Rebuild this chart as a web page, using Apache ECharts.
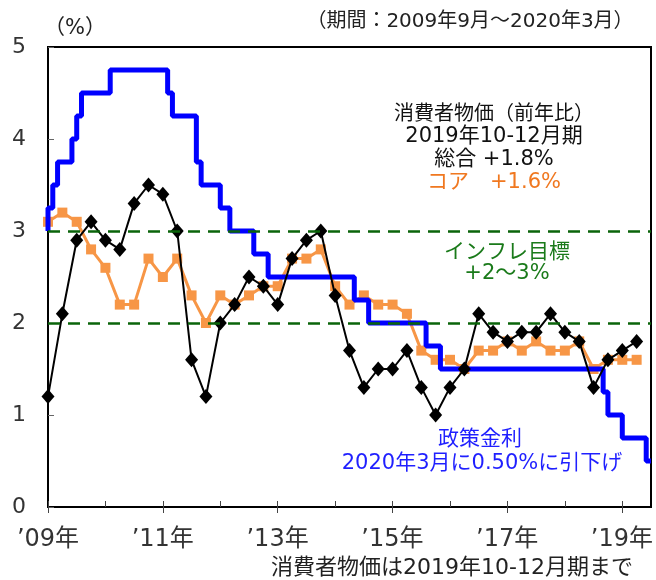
<!DOCTYPE html>
<html><head><meta charset="utf-8">
<script src="https://cdn.jsdelivr.net/npm/echarts@6/dist/echarts.min.js"></script>
<style>html,body{margin:0;padding:0;background:#fff}#c{width:656px;height:580px}</style>
</head><body><div id="c"></div>
<script>
// Monthly policy rate, Sep 2009 .. Mar 2020 (index = months since Sep 2009)
const policyRate = [
  3.00,3.25,3.50,3.75,3.75,3.75,4.00,4.25,4.50,4.50,4.50,4.50,
  4.50,4.50,4.75,4.75,4.75,4.75,4.75,4.75,4.75,4.75,4.75,4.75,
  4.75,4.75,4.50,4.25,4.25,4.25,4.25,4.25,3.75,3.50,3.50,3.50,
  3.50,3.25,3.25,3.00,3.00,3.00,3.00,3.00,2.75,2.75,2.75,2.50,
  2.50,2.50,2.50,2.50,2.50,2.50,2.50,2.50,2.50,2.50,2.50,2.50,
  2.50,2.50,2.50,2.50,2.50,2.25,2.25,2.25,2.00,2.00,2.00,2.00,
  2.00,2.00,2.00,2.00,2.00,2.00,2.00,2.00,1.75,1.75,1.75,1.50,
  1.50,1.50,1.50,1.50,1.50,1.50,1.50,1.50,1.50,1.50,1.50,1.50,
  1.50,1.50,1.50,1.50,1.50,1.50,1.50,1.50,1.50,1.50,1.50,1.50,
  1.50,1.50,1.50,1.50,1.50,1.50,1.50,1.50,1.50,1.25,1.00,1.00,
  1.00,0.75,0.75,0.75,0.75,0.75,0.50
];
// Quarterly CPI (y/y %), 2009 Q3 .. 2019 Q4
const cpiHeadline = [1.2,2.1,2.9,3.1,2.9,2.8,3.3,3.5,3.4,3.0,1.6,1.2,2.0,2.2,2.5,2.4,2.2,2.7,2.9,3.0,2.3,1.7,1.3,1.5,1.5,1.7,1.3,1.0,1.3,1.5,2.1,1.9,1.8,1.9,1.9,2.1,1.9,1.8,1.3,1.6,1.7,1.8];
const cpiCore = [3.1,3.2,3.1,2.8,2.6,2.2,2.2,2.7,2.5,2.7,2.3,2.0,2.3,2.2,2.3,2.4,2.4,2.7,2.7,2.8,2.4,2.2,2.3,2.2,2.2,2.1,1.7,1.6,1.6,1.5,1.7,1.7,1.8,1.7,1.8,1.7,1.7,1.8,1.5,1.6,1.6,1.6];
const targetBand = [2, 3];
const yearTickMonths = [0,12,24,36,48,60,72,84,96,108,120];
const labelTickMonths = [0,24,48,72,96,120];
const xTickLabels = ['’09年','’11年','’13年','’15年','’17年','’19年'];
const monthsPerQuarter = 3;
const xMax = policyRate.length - 1;

const FONT = '"DejaVu Sans","Noto Sans CJK JP",sans-serif';
const chart = echarts.init(document.getElementById('c'), null, {renderer: 'canvas'});
const gridPos = {left: 48, top: 47, right: 5, bottom: 73};

function txt(text, x, y, size, color, align) {
  return {type: 'text', x: x, y: y, z: 100,
    style: {text: text, fill: color, font: size + 'px ' + FONT,
      align: align || 'center', verticalAlign: 'middle',
      textAlign: align || 'center', textVerticalAlign: 'middle'}};
}

chart.setOption({
  animation: false,
  grid: [
    Object.assign({show: true, borderColor: '#000', borderWidth: 2, backgroundColor: 'transparent'}, gridPos),
    Object.assign({show: false}, gridPos)
  ],
  xAxis: [
    {type: 'value', gridIndex: 0, min: 0, max: xMax,
     axisLine: {show: true, lineStyle: {color: '#000', width: 2}},
     axisTick: {show: true, inside: true, length: 6, customValues: yearTickMonths, lineStyle: {color: '#444', width: 1}},
     axisLabel: {show: false}, splitLine: {show: false}},
    {type: 'value', gridIndex: 1, min: 0, max: xMax,
     axisLine: {show: false},
     axisTick: {show: true, inside: false, length: 6, customValues: labelTickMonths, lineStyle: {color: '#444', width: 1}},
     axisLabel: {show: true, customValues: labelTickMonths, margin: 21,
       fontFamily: FONT, fontSize: 24, color: '#333',
       formatter: function (v) { const i = labelTickMonths.indexOf(v); return i >= 0 ? xTickLabels[i] : ''; }},
     splitLine: {show: false}}
  ],
  yAxis: [
    {type: 'value', gridIndex: 0, min: 0, max: 5, interval: 1,
     axisLine: {show: true, lineStyle: {color: '#000', width: 2}},
     axisTick: {show: true, inside: true, length: 6, lineStyle: {color: '#666', width: 1}},
     axisLabel: {fontFamily: FONT, fontSize: 22, color: '#333', margin: 22},
     splitLine: {show: false}},
    {type: 'value', gridIndex: 1, min: 0, max: 5, show: false}
  ],
  series: [
    {name: 'target', type: 'line', xAxisIndex: 0, yAxisIndex: 0, data: [], z: 1,
     markLine: {silent: true, symbol: 'none', label: {show: false},
       lineStyle: {color: '#0a640a', width: 2.5, type: [12, 8]},
       data: targetBand.map(v => ({yAxis: v}))}},
    {name: 'core', type: 'line', xAxisIndex: 0, yAxisIndex: 0, z: 2,
     data: cpiCore.map((v, i) => [i * monthsPerQuarter, v]),
     symbol: 'rect', symbolSize: 10, lineStyle: {color: '#F79646', width: 3},
     itemStyle: {color: '#F79646'}},
    {name: 'policy', type: 'line', step: 'start', xAxisIndex: 0, yAxisIndex: 0, z: 3,
     data: policyRate.map((v, i) => [i, v]), showSymbol: false, symbol: 'none',
     lineStyle: {color: '#0000FF', width: 5}},
    {name: 'headline', type: 'line', xAxisIndex: 0, yAxisIndex: 0, z: 4,
     data: cpiHeadline.map((v, i) => [i * monthsPerQuarter, v]),
     symbol: 'diamond', symbolSize: [13, 15], lineStyle: {color: '#000', width: 2},
     itemStyle: {color: '#000'}}
  ],
  graphic: [
    txt('（%）', 75, 29, 21, '#222'),
    txt('（期間：2009年9月～2020年3月）', 470, 22, 20, '#222'),
    txt('消費者物価（前年比）', 494, 115, 20, '#111'),
    txt('2019年10-12月期', 494, 137, 21, '#111'),
    txt('総合 +1.8%', 494, 160, 21, '#111'),
    txt('コア　+1.6%', 494, 183, 21, '#F07820'),
    txt('インフレ目標', 507, 253, 21, '#1a7a1a'),
    txt('+2～3%', 507, 274, 21, '#1a7a1a'),
    txt('政策金利', 480, 440, 21, '#1f1fff'),
    txt('2020年3月に0.50%に引下げ', 482, 464, 21, '#1f1fff'),
    txt('消費者物価は2019年10-12月期まで', 452, 568, 22, '#222')
  ]
});
</script></body></html>
